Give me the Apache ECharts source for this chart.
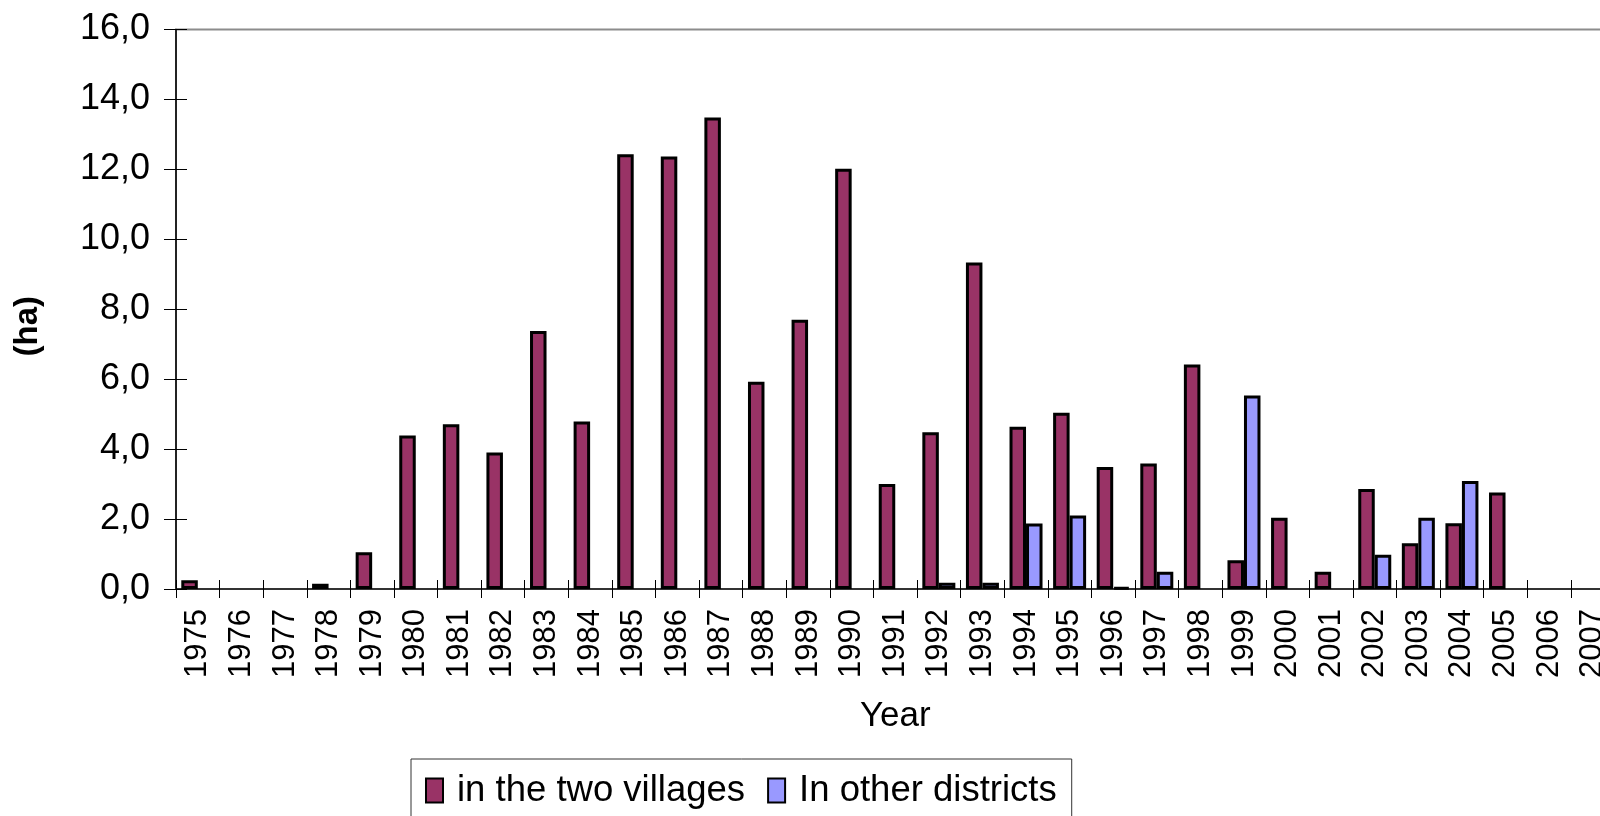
<!DOCTYPE html>
<html>
<head>
<meta charset="utf-8">
<script src="https://cdn.jsdelivr.net/npm/echarts@6/dist/echarts.min.js"></script>
<style>
  html, body { margin: 0; padding: 0; background: #fff; }
  #chart { width: 1600px; height: 816px; }
</style>
</head>
<body>
<div id="chart"></div>
<script>
// years on the x axis
const years = ['1975', '1976', '1977', '1978', '1979', '1980', '1981', '1982', '1983', '1984',
  '1985', '1986', '1987', '1988', '1989', '1990', '1991', '1992', '1993', '1994',
  '1995', '1996', '1997', '1998', '1999', '2000', '2001', '2002', '2003', '2004',
  '2005', '2006', '2007'];

// ha (null = no bar)
const twoVillages = [0.25, null, null, 0.15, 1.05, 4.39, 4.71, 3.9, 7.38, 4.79,
  12.43, 12.37, 13.48, 5.93, 7.7, 12.02, 3.0, 4.48, 9.34, 4.64,
  5.04, 3.49, 3.59, 6.42, 0.82, 2.04, 0.49, 2.86, 1.31, 1.88,
  2.76, null, null];
const otherDistricts = [null, null, null, null, null, null, null, null, null, null,
  null, null, null, null, null, null, null, 0.18, 0.18, 1.87,
  2.1, 0.05, 0.49, null, 5.53, null, null, 0.98, 2.04, 3.09,
  null, null, null];

const yTicks = {min: 0, max: 16, interval: 2};

const FONT = "'Liberation Sans', Arial, sans-serif";

const chart = echarts.init(document.getElementById('chart'));

chart.setOption({
  animation: false,
  backgroundColor: '#fff',
  textStyle: {fontFamily: FONT, color: '#000'},
  grid: {
    left: 176,
    top: 29.5,
    width: 1438.5,
    height: 559.5,
    outerBoundsMode: 'none', // plot runs past the right edge, like the original
    show: true,
    borderColor: '#8c8c8c',
    borderWidth: 2,
    backgroundColor: 'transparent'
  },
  legend: {
    data: ['in the two villages', 'In other districts'],
    icon: 'rect',
    left: 411,
    top: 759,
    orient: 'horizontal',
    padding: [13, 15, 24, 14],
    itemGap: 22,
    itemWidth: 17,
    itemHeight: 24,
    borderColor: '#333',
    borderWidth: 1,
    itemStyle: {borderColor: '#000', borderWidth: 2},
    textStyle: {fontFamily: FONT, fontSize: 36.5, color: '#000', padding: [0, 0, 0, 9]}
  },
  xAxis: [
    {
      type: 'category',
      data: years,
      position: 'bottom',
      name: 'Year',
      nameLocation: 'middle',
      nameGap: 110,
      nameTextStyle: {fontFamily: FONT, fontSize: 35, color: '#000'},
      axisLine: {show: true, lineStyle: {color: '#333', width: 2}},
      axisTick: {show: true, inside: false, length: 9, lineStyle: {color: '#000', width: 1}},
      axisLabel: {rotate: 90, margin: 20, fontFamily: FONT, fontSize: 31, color: '#000'},
      splitLine: {show: false}
    },
    {
      // second copy only to draw the inner half of the crossing ticks
      type: 'category',
      data: years,
      position: 'bottom',
      axisLine: {show: false},
      axisTick: {show: true, inside: true, length: 9, lineStyle: {color: '#000', width: 1}},
      axisLabel: {show: false},
      splitLine: {show: false}
    }
  ],
  yAxis: [
    {
      type: 'value',
      min: yTicks.min,
      max: yTicks.max,
      interval: yTicks.interval,
      position: 'left',
      name: '(ha)',
      nameLocation: 'middle',
      nameGap: 132,
      nameTextStyle: {fontFamily: FONT, fontSize: 33, fontWeight: 'bold', color: '#000', padding: [0, 34, 0, 0]},
      axisLine: {show: true, lineStyle: {color: '#000', width: 1.5}},
      axisTick: {show: true, inside: false, length: 12, lineStyle: {color: '#000', width: 1}},
      axisLabel: {
        margin: 26,
        fontFamily: FONT,
        fontSize: 36,
        color: '#000',
        formatter: (v) => v.toFixed(1).replace('.', ',')
      },
      splitLine: {show: false}
    },
    {
      type: 'value',
      min: yTicks.min,
      max: yTicks.max,
      interval: yTicks.interval,
      position: 'left',
      axisLine: {show: false},
      axisTick: {show: true, inside: true, length: 11, lineStyle: {color: '#000', width: 1}},
      axisLabel: {show: false},
      splitLine: {show: false}
    }
  ],
  series: [
    {
      name: 'in the two villages',
      type: 'bar',
      xAxisIndex: 0,
      yAxisIndex: 0,
      data: twoVillages,
      barWidth: 16.5,
      barGap: '0%',
      itemStyle: {color: '#993366', borderColor: '#000', borderWidth: 3}
    },
    {
      name: 'In other districts',
      type: 'bar',
      xAxisIndex: 0,
      yAxisIndex: 0,
      data: otherDistricts,
      barWidth: 16.5,
      barGap: '0%',
      itemStyle: {color: '#9999ff', borderColor: '#000', borderWidth: 3}
    }
  ]
});
</script>
</body>
</html>
